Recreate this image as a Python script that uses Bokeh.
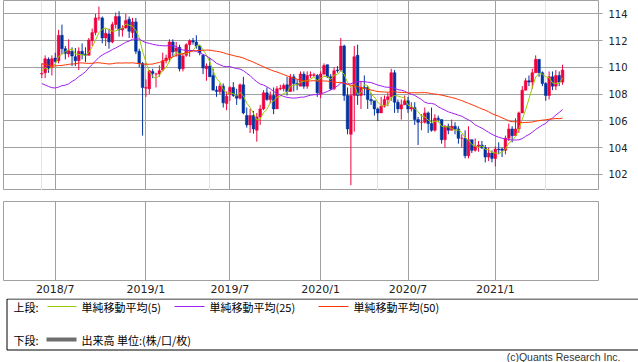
import numpy as np
import pandas as pd
from bokeh.plotting import figure
from bokeh.layouts import column
from bokeh.models import ColumnDataSource, FixedTicker, Range1d, Grid
from bokeh.core.properties import value
from bokeh.embed import file_html
from bokeh.resources import INLINE

# ---------------- data (weekly USD/JPY style candles) ----------------
start_week = "2018-06-04"

open_ = [109.5, 109.6, 110.6, 110.0, 110.7, 110.5, 112.4, 111.4, 111.0, 111.2,
         110.8, 110.5, 111.2, 111.0, 110.9, 112.0, 112.6, 113.7, 113.7, 112.2,
         112.5, 111.9, 113.2, 113.8, 112.8, 112.95, 113.6, 112.6, 113.4, 111.2,
         110.3, 108.45, 108.4, 109.7, 109.5, 109.5, 109.8, 110.5, 110.7, 111.9,
         111.2, 111.5, 109.9, 110.9, 111.7, 112.0, 111.9, 111.6, 110.9, 109.9,
         110.1, 109.4, 108.3, 108.2, 108.6, 107.3, 108.0, 108.5, 107.9, 107.7,
         108.7, 106.4, 105.7, 106.4, 105.3, 106.3, 106.9, 108.1, 107.6, 107.9,
         106.9, 108.4, 108.4, 108.7, 108.2, 109.3, 108.8, 108.6, 109.5, 108.6,
         109.4, 109.4, 109.4, 108.0, 109.5, 110.2, 109.3, 108.4, 109.8, 109.8,
         111.6, 107.9, 105.0, 107.9, 110.9, 107.9, 108.5, 108.5, 107.6, 107.5,
         106.9, 106.6, 107.1, 107.6, 107.8, 109.6, 107.4, 106.9, 107.2, 107.5,
         106.9, 107.0, 106.1, 105.9, 105.9, 106.6, 105.8, 105.3, 106.2, 106.1,
         104.6, 105.6, 105.3, 105.6, 105.4, 104.7, 104.7, 103.4, 104.6, 103.8,
         104.1, 104.2, 104.0, 103.3, 103.6, 103.2, 103.9, 103.9, 103.8, 104.7,
         105.4, 104.9, 105.4, 106.6, 108.3, 109.0, 108.9, 109.6, 110.6, 109.6,
         108.8, 107.9, 109.3, 108.6, 109.4, 108.9]
high = [110.3, 110.9, 110.75, 110.9, 111.1, 112.8, 113.2, 111.6, 112.1, 111.5,
        111.45, 111.5, 111.8, 111.5, 112.2, 112.9, 114.0, 114.55, 113.8, 112.9,
        112.9, 113.4, 114.1, 114.2, 113.15, 114.0, 113.8, 113.7, 113.7, 111.4,
        110.4, 109.1, 109.8, 109.9, 109.6, 110.15, 111.1, 110.95, 112.1, 112.1,
        111.9, 111.7, 111.0, 111.8, 112.1, 112.2, 112.4, 111.7, 111.0, 110.3,
        110.7, 109.9, 108.6, 108.8, 108.8, 108.2, 108.6, 108.9, 108.4, 108.8,
        109.3, 107.0, 106.9, 106.75, 106.6, 107.2, 108.3, 108.5, 108.2, 108.5,
        108.6, 108.7, 108.8, 109.3, 109.5, 109.5, 109.1, 109.7, 109.7, 109.7,
        109.7, 109.6, 109.5, 109.7, 110.3, 110.2, 109.5, 110.0, 110.1, 112.2,
        111.7, 108.5, 108.5, 111.6, 111.7, 109.0, 109.4, 108.6, 108.1, 107.5,
        107.0, 107.8, 107.9, 108.1, 109.9, 109.8, 107.6, 107.6, 107.9, 107.8,
        107.4, 107.4, 106.3, 106.5, 107.0, 106.7, 107.0, 106.5, 106.4, 106.1,
        105.7, 105.8, 106.1, 105.9, 105.6, 105.0, 105.3, 105.6, 104.6, 104.7,
        104.5, 104.5, 104.2, 104.0, 103.8, 104.1, 104.4, 104.0, 104.9, 105.8,
        105.6, 106.2, 106.7, 108.6, 109.2, 109.4, 109.9, 110.9, 110.6, 109.7,
        108.9, 109.7, 109.7, 109.8, 109.7, 110.2]
low = [109.2, 109.2, 109.6, 109.4, 110.3, 110.3, 111.0, 110.6, 110.75, 110.1,
       110.1, 109.8, 110.6, 110.4, 110.9, 111.6, 112.4, 113.5, 111.8, 111.6,
       111.4, 111.8, 112.9, 112.3, 112.3, 112.9, 112.2, 112.2, 111.0, 110.0,
       104.9, 107.8, 108.0, 109.2, 108.5, 109.3, 109.7, 110.3, 110.4, 110.8,
       110.8, 109.7, 109.7, 110.8, 110.8, 111.7, 111.4, 110.9, 109.5, 109.0,
       109.3, 108.3, 107.8, 108.0, 107.0, 106.8, 107.5, 107.8, 107.2, 107.6,
       106.5, 105.5, 105.1, 105.05, 104.45, 105.7, 106.8, 107.5, 107.3, 106.5,
       106.9, 108.3, 108.2, 107.9, 108.2, 108.2, 108.3, 108.6, 108.4, 108.4,
       109.2, 109.3, 107.8, 107.7, 109.4, 109.2, 108.3, 108.3, 109.6, 109.7,
       107.5, 105.0, 101.2, 105.2, 107.2, 106.9, 107.9, 106.9, 107.2, 106.4,
       106.0, 106.6, 107.0, 107.1, 107.5, 106.6, 106.6, 106.1, 107.2, 106.6,
       106.7, 105.7, 104.2, 105.3, 105.8, 105.1, 105.2, 105.2, 105.9, 104.3,
       104.0, 105.0, 105.3, 105.0, 104.3, 104.0, 103.2, 103.2, 103.6, 103.7,
       103.7, 103.9, 102.9, 103.0, 102.9, 102.6, 103.5, 103.3, 103.5, 104.5,
       104.4, 104.9, 105.1, 106.6, 108.3, 108.6, 108.4, 109.6, 109.3, 108.6,
       107.5, 107.6, 108.3, 108.3, 108.6, 108.7]
close = [109.55, 110.65, 109.95, 110.65, 110.45, 112.4, 111.4, 111.05, 111.25, 110.85,
         110.5, 111.2, 110.95, 110.9, 112.05, 112.6, 113.7, 113.7, 112.2, 112.55,
         111.9, 113.2, 113.8, 112.8, 112.95, 113.5, 112.7, 113.4, 111.2, 110.3,
         108.5, 108.5, 109.75, 109.55, 109.5, 109.75, 110.5, 110.7, 111.9, 111.15,
         111.45, 109.9, 110.85, 111.7, 112.0, 111.9, 111.6, 111.1, 109.95, 110.1,
         109.3, 108.3, 108.2, 108.6, 107.35, 107.85, 108.5, 107.9, 107.7, 108.7,
         106.6, 105.7, 106.4, 105.4, 106.3, 106.9, 108.1, 107.6, 107.9, 106.9,
         108.4, 108.45, 108.65, 108.2, 109.25, 108.8, 108.7, 109.5, 108.6, 109.4,
         109.45, 109.45, 108.1, 109.5, 110.15, 109.3, 108.4, 109.75, 109.75, 111.6,
         107.9, 105.4, 107.9, 110.8, 107.9, 108.5, 108.45, 107.6, 107.5, 106.9,
         106.6, 107.1, 107.6, 107.8, 109.6, 107.4, 106.9, 107.2, 107.5, 106.9,
         107.0, 106.1, 105.9, 105.9, 106.6, 105.8, 105.3, 106.2, 106.1, 104.6,
         105.6, 105.3, 105.6, 105.4, 104.7, 104.7, 103.4, 104.6, 103.8, 104.1,
         104.2, 104.0, 103.3, 103.6, 103.2, 103.9, 103.85, 103.8, 104.7, 105.4,
         104.9, 105.4, 106.6, 108.3, 109.0, 108.9, 109.6, 110.6, 109.6, 108.8,
         107.9, 109.3, 108.6, 109.4, 108.9, 109.8]
# weekly closes before the first shown candle (needed for the moving averages)
seed_close = [112.4, 113.9, 112.5, 111.1, 110.7, 110.7, 109.2, 109.2, 109.4, 110.2,
              107.8, 110.8, 112.0, 112.5, 112.6, 111.8, 113.5, 113.7, 114.1, 113.5,
              112.1, 111.5, 112.2, 113.5, 112.6, 113.3, 112.7, 113.0, 111.0, 110.8,
              108.6, 110.2, 108.8, 106.3, 106.9, 105.8, 106.8, 106.0, 104.7, 106.3,
              106.9, 107.4, 107.6, 109.0, 109.1, 109.4, 110.8, 109.4, 109.5]
ma_periods = [5, 25, 50]
ma_colors = ["#99cc00", "#a020f0", "#ff3300"]
ma_labels = ["単純移動平均(5)", "単純移動平均(25)", "単純移動平均(50)"]
tick_months = ["2018-07", "2019-01", "2019-07", "2020-01", "2020-07", "2021-01"]
tick_labels = ["2018/7", "2019/1", "2019/7", "2020/1", "2020/7", "2021/1"]
y_ticks = [102, 104, 106, 108, 110, 112, 114]

# ---------------- derived ----------------
n = len(close)
dates = pd.date_range(start_week, periods=n, freq="7D")
idx = np.arange(n)
allc = pd.Series(seed_close + close)
mas = [allc.rolling(k).mean().iloc[len(seed_close):].to_numpy() for k in ma_periods]
tick_pos = [int(np.argmax(dates >= pd.Timestamp(m + "-01"))) for m in tick_months]

UP, DOWN = "#f0003c", "#0033a0"
colors = [UP if c >= o else DOWN for o, c in zip(open_, close)]
src = ColumnDataSource(dict(x=idx, o=open_, h=high, l=low, c=close,
                            top=np.maximum(open_, close), bot=np.minimum(open_, close),
                            color=colors))

GRID = "#a0a0a0"
xr = Range1d(-11.4, 165.7)

# ---------------- upper panel ----------------
p = figure(frame_width=595, frame_height=190, x_range=xr, y_range=Range1d(100.8, 115.0),
           output_backend="svg", toolbar_location=None, y_axis_location="right",
           x_axis_location=None, min_border_left=3, min_border_right=40,
           min_border_top=0, min_border_bottom=0, background_fill_color="white",
           border_fill_color="white", outline_line_color=GRID)
p.ygrid.grid_line_color = GRID
p.ygrid.ticker = FixedTicker(ticks=y_ticks)
p.add_layout(Grid(dimension=0, ticker=FixedTicker(ticks=tick_pos), grid_line_color=GRID))
ax = p.yaxis[0]
ax.ticker = FixedTicker(ticks=y_ticks)
ax.axis_line_color = None
ax.major_tick_line_color = GRID
ax.major_tick_out = 4
ax.major_tick_in = 0
ax.minor_tick_line_color = None
ax.minor_tick_out = 0
ax.major_label_standoff = 6
ax.major_label_text_font = "DejaVu Sans"
ax.major_label_text_font_size = "10px"
ax.major_label_text_color = "#222222"

p.segment(x0="x", x1="x", y0="l", y1="h", color="color", line_width=1, source=src)
p.vbar(x="x", width=0.8, top="top", bottom="bot", fill_color="color", line_color="color",
       line_width=0.5, source=src)
for ma, col in zip(mas, ma_colors):
    p.line(idx, ma, color=col, line_width=1)

# ---------------- lower panel ----------------
q = figure(frame_width=595, frame_height=79, x_range=xr, y_range=Range1d(0, 1),
           output_backend="svg", toolbar_location=None, y_axis_location=None,
           min_border_left=3, min_border_right=40, min_border_top=11, min_border_bottom=15,
           background_fill_color="white", border_fill_color="white", outline_line_color=GRID)
q.ygrid.grid_line_color = None
xa = q.xaxis[0]
xa.ticker = FixedTicker(ticks=tick_pos)
xa.major_label_overrides = {int(t): lab for t, lab in zip(tick_pos, tick_labels)}
xa.axis_line_color = None
xa.major_tick_line_color = None
xa.minor_tick_line_color = None
xa.major_tick_out = 0
xa.major_tick_in = 0
xa.minor_tick_out = 0
xa.minor_tick_in = 0
xa.major_label_standoff = 2
xa.major_label_text_font = "DejaVu Sans"
xa.major_label_text_font_size = "11px"
xa.major_label_text_color = "#222222"
q.xgrid.ticker = FixedTicker(ticks=tick_pos)
q.xgrid.grid_line_color = GRID

# ---------------- legend block ----------------
L = figure(frame_width=638, frame_height=67, x_range=Range1d(0, 638), y_range=Range1d(67, 0),
           output_backend="svg", toolbar_location=None, x_axis_location=None,
           y_axis_location=None, min_border=0, outline_line_color=None,
           background_fill_color="white", border_fill_color="white")
L.xgrid.visible = False
L.ygrid.visible = False
L.quad(left=3.5, right=635.5, top=0.5, bottom=51.5, fill_color=None, line_color="black",
       line_width=1)
font = value("Noto Sans CJK JP")
L.text(x=[10, 10], y=[8, 41], text=["上段:", "下段:"], text_font=font,
       text_font_size="11px", text_baseline="middle", text_color="black")
line_x = [(44, 73), (171, 201), (315, 345)]
text_x = [78, 206, 350]
for (a, b), tx, col, lab in zip(line_x, text_x, ma_colors, ma_labels):
    L.segment(x0=[a], x1=[b], y0=[8], y1=[8], color=col, line_width=1)
    L.text(x=[tx], y=[8], text=[lab], text_font=font, text_font_size="11px",
           text_baseline="middle", text_color="black")
L.segment(x0=[43], x1=[73], y0=[41], y1=[41], color="#6e6e6e", line_width=4)
L.text(x=[78], y=[41], text=["出来高 単位:(株/口/枚)"], text_font=font, text_font_size="11px",
       text_baseline="middle", text_color="black")
L.text(x=[617], y=[58.5], text=["(c)Quants Research Inc."], text_font=value("Liberation Sans"),
       text_font_size="10.5px", text_baseline="middle", text_align="right", text_color="#333333")

root = column(p, q, L, spacing=0)
open("out.html", "w").write(file_html(root, INLINE))
